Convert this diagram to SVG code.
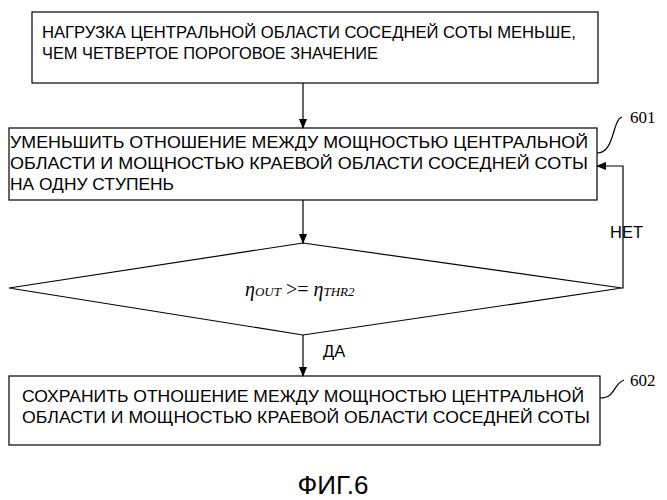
<svg xmlns="http://www.w3.org/2000/svg" width="667" height="500" viewBox="0 0 667 500">
<style>
.b{fill:#fff;stroke:#000;stroke-width:1.2}
.t{font-family:"Liberation Sans",Arial,sans-serif;font-size:16.5px;fill:#000}
.c{fill:none;stroke:#000;stroke-width:1.2}
.n{font-family:"Liberation Serif","Times New Roman",serif;font-size:17px}
</style>
<defs><marker id="a" markerWidth="10" markerHeight="8" refX="9" refY="4" orient="auto" markerUnits="userSpaceOnUse"><path d="M0,0L10,4L0,8z"/></marker></defs>
<rect width="667" height="500" fill="#fff"/>
<g id="n1"><rect class="b" x="32" y="12" width="566" height="71"/>
<text class="t" x="42" y="38" textLength="534" lengthAdjust="spacingAndGlyphs">НАГРУЗКА ЦЕНТРАЛЬНОЙ ОБЛАСТИ СОСЕДНЕЙ СОТЫ МЕНЬШЕ,</text>
<text class="t" x="42" y="59" textLength="336" lengthAdjust="spacingAndGlyphs">ЧЕМ ЧЕТВЕРТОЕ ПОРОГОВОЕ ЗНАЧЕНИЕ</text></g>
<g id="n2"><rect class="b" x="9" y="128" width="588" height="72"/>
<text class="t" x="10" y="148" textLength="578" lengthAdjust="spacingAndGlyphs">УМЕНЬШИТЬ ОТНОШЕНИЕ МЕЖДУ МОЩНОСТЬЮ ЦЕНТРАЛЬНОЙ</text>
<text class="t" x="10" y="169" textLength="578" lengthAdjust="spacingAndGlyphs">ОБЛАСТИ И МОЩНОСТЬЮ КРАЕВОЙ ОБЛАСТИ СОСЕДНЕЙ СОТЫ</text>
<text class="t" x="10" y="190" textLength="164" lengthAdjust="spacingAndGlyphs">НА ОДНУ СТУПЕНЬ</text></g>
<g id="n3"><polygon class="b" points="303,243 622,288 303,335 9,288"/>
<text x="245" y="296" font-family="Liberation Serif,serif" font-style="italic" font-size="20">η<tspan font-size="13">OUT</tspan><tspan font-style="normal"> &gt;= </tspan>η<tspan font-size="13">THR2</tspan></text></g>
<g id="n4"><rect class="b" x="9" y="376" width="591" height="69"/>
<text class="t" x="22" y="402" textLength="562" lengthAdjust="spacingAndGlyphs">СОХРАНИТЬ ОТНОШЕНИЕ МЕЖДУ МОЩНОСТЬЮ ЦЕНТРАЛЬНОЙ</text>
<text class="t" x="22" y="423" textLength="568" lengthAdjust="spacingAndGlyphs">ОБЛАСТИ И МОЩНОСТЬЮ КРАЕВОЙ ОБЛАСТИ СОСЕДНЕЙ СОТЫ</text></g>
<g id="connectors">
<line class="c" x1="303" y1="83" x2="303" y2="128" marker-end="url(#a)"/>
<line class="c" x1="303" y1="200" x2="303" y2="243" marker-end="url(#a)"/>
<line class="c" x1="303" y1="335" x2="303" y2="376" marker-end="url(#a)"/>
<polyline class="c" points="622,288 623,288 623,166 597,166" marker-end="url(#a)"/>
<text class="t" x="610" y="238" font-size="14">НЕТ</text>
<text class="t" x="323" y="357" font-size="14">ДА</text>
<path class="c" d="M597,153 C615,153 612,120 622,117"/>
<path class="c" d="M600,398 C616,398 612,385 624,380"/>
</g>
<text class="n" x="630" y="123">601</text>
<text class="n" x="630" y="386">602</text>
<text x="333" y="494" text-anchor="middle" font-family="Liberation Sans,Arial,sans-serif" font-size="26">ФИГ.6</text>
</svg>
